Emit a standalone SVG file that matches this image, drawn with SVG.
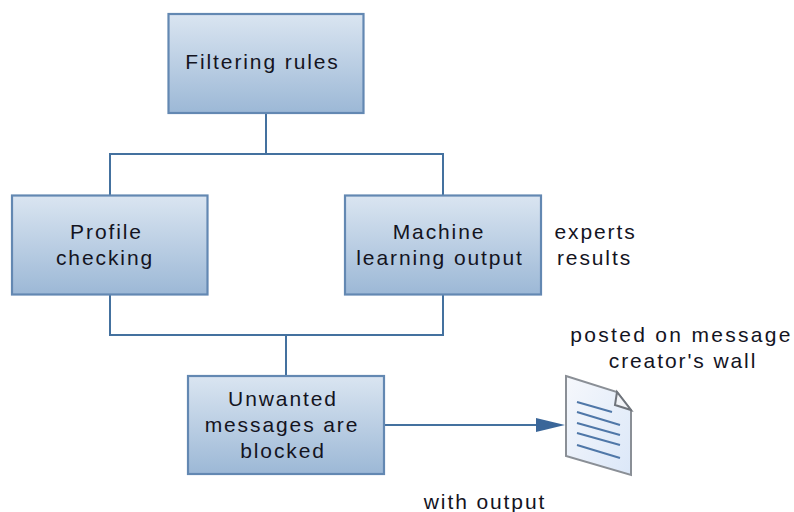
<svg xmlns="http://www.w3.org/2000/svg" width="794" height="512" viewBox="0 0 794 512">
<defs>
<linearGradient id="g" x1="0" y1="0" x2="0" y2="1"><stop offset="0" stop-color="#dae5f1"/><stop offset="1" stop-color="#9cb8d6"/></linearGradient>
<linearGradient id="p" x1="0" y1="0" x2="1" y2="1"><stop offset="0" stop-color="#f6f8fc"/><stop offset="1" stop-color="#dbe7f8"/></linearGradient>
</defs>
<style>
.b{fill:url(#g);stroke:#6388b2;stroke-width:2.200}
.c{fill:none;stroke:#44719f;stroke-width:2}
text{font-family:"Liberation Sans",Arial,sans-serif;font-size:21px;fill:#14141f;text-anchor:middle;letter-spacing:1.9px}
.w{letter-spacing:2.300px}
.l{fill:none;stroke:#4f77a8;stroke-width:2}
</style>
<rect width="794" height="512" fill="#fff"/>
<g id="connectors">
<path class="c" d="M266 113V154M110 195V154H443V195M110 295V335H443V295M286 335V376"/>
<path class="c" d="M385 425H540"/>
<path d="M536 418L565 425L536 432Z" fill="#3a6699"/>
</g>
<g id="filtering-rules"><rect class="b" x="168.500" y="14" width="195" height="99"/><text x="262.500" y="69">Filtering rules</text></g>
<g id="profile-checking"><rect class="b" x="12" y="195.500" width="195.500" height="99"/><text x="106.500" y="239">Profile</text><text x="105" y="265">checking</text></g>
<g id="machine-learning"><rect class="b" x="345" y="195.500" width="196" height="99"/><text x="439" y="239">Machine</text><text x="440" y="265">learning output</text></g>
<g id="unwanted"><rect class="b" x="188" y="376" width="196" height="98"/><text x="283" y="406">Unwanted</text><text x="282" y="432">messages are</text><text x="283" y="458">blocked</text></g>
<g id="document">
<path d="M566 376L617 392L631 410V475L566 456Z" fill="url(#p)" stroke="#8a8f96" stroke-width="2"/>
<path d="M617 392L615 405L631 410Z" fill="#f2f4f8" stroke="#6f747b" stroke-width="2"/>
<path class="l" d="M577 402L612 412M577 412L620 425M577 423L620 435M577 433L620 445M577 445L620 458"/>
</g>
<g id="labels">
<text x="595.500" y="239">experts</text><text x="594.500" y="265">results</text>
<text class="w" x="681.500" y="342">posted on message</text><text x="683" y="368">creator's wall</text>
<text x="485" y="509">with output</text>
</g>
</svg>
